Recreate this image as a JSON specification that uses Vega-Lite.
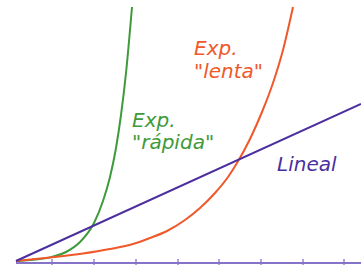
{
  "$schema": "https://vega.github.io/schema/vega-lite/v6.json",
  "width": 361,
  "height": 268,
  "padding": 0,
  "autosize": "none",
  "background": "white",
  "config": {"view": {"stroke": null}},
  "datasets": {
    "curves": [
      {"s": "rapida", "x": 16, "y": 2}, {"s": "rapida", "x": 30, "y": 2.9}, {"s": "rapida", "x": 50, "y": 5.6}, {"s": "rapida", "x": 66, "y": 11}, {"s": "rapida", "x": 80, "y": 21}, {"s": "rapida", "x": 94, "y": 40}, {"s": "rapida", "x": 103, "y": 62}, {"s": "rapida", "x": 110, "y": 86}, {"s": "rapida", "x": 116, "y": 115}, {"s": "rapida", "x": 121, "y": 148}, {"s": "rapida", "x": 126, "y": 190}, {"s": "rapida", "x": 132, "y": 256},
      {"s": "lenta", "x": 16, "y": 2}, {"s": "lenta", "x": 50, "y": 5.5}, {"s": "lenta", "x": 83, "y": 9.5}, {"s": "lenta", "x": 110, "y": 14}, {"s": "lenta", "x": 133, "y": 19}, {"s": "lenta", "x": 150, "y": 25}, {"s": "lenta", "x": 167, "y": 32}, {"s": "lenta", "x": 185, "y": 43}, {"s": "lenta", "x": 200, "y": 55}, {"s": "lenta", "x": 215, "y": 70}, {"s": "lenta", "x": 228, "y": 86}, {"s": "lenta", "x": 237, "y": 100}, {"s": "lenta", "x": 250, "y": 124}, {"s": "lenta", "x": 262, "y": 151}, {"s": "lenta", "x": 273, "y": 180}, {"s": "lenta", "x": 283, "y": 213}, {"s": "lenta", "x": 293, "y": 256},
      {"s": "lineal", "x": 16, "y": 2}, {"s": "lineal", "x": 361, "y": 159}
    ],
    "ticks": [{"x": 52}, {"x": 94}, {"x": 136}, {"x": 178}, {"x": 219}, {"x": 261}, {"x": 303}, {"x": 344}],
    "labels": [
      {"t": "Exp.", "x": 194, "y": 208, "c": "lenta"},
      {"t": "\"lenta\"", "x": 194, "y": 185, "c": "lenta"},
      {"t": "Exp.", "x": 132, "y": 136, "c": "rapida"},
      {"t": "\"rápida\"", "x": 132, "y": 114, "c": "rapida"},
      {"t": "Lineal", "x": 277, "y": 92, "c": "lineal"}
    ]
  },
  "layer": [
    {
      "data": {"values": [{"x1": 16, "x2": 361, "y": 0}]},
      "mark": {"type": "rule", "color": "#8473c9", "strokeWidth": 2},
      "encoding": {
        "x": {"field": "x1", "type": "quantitative", "scale": {"domain": [0, 361], "nice": false, "zero": false}, "axis": null},
        "x2": {"field": "x2"},
        "y": {"field": "y", "type": "quantitative", "scale": {"domain": [-5, 263], "nice": false, "zero": false}, "axis": null}
      }
    },
    {
      "data": {"name": "ticks"},
      "transform": [{"calculate": "-2", "as": "y1"}, {"calculate": "4", "as": "y2"}],
      "mark": {"type": "rule", "color": "#8473c9", "strokeWidth": 1.3},
      "encoding": {
        "x": {"field": "x", "type": "quantitative"},
        "y": {"field": "y1", "type": "quantitative"},
        "y2": {"field": "y2"}
      }
    },
    {
      "data": {"name": "curves"},
      "mark": {"type": "line", "strokeWidth": 2, "interpolate": "monotone"},
      "encoding": {
        "x": {"field": "x", "type": "quantitative"},
        "y": {"field": "y", "type": "quantitative"},
        "detail": {"field": "s"},
        "color": {"field": "s", "type": "nominal", "scale": {"domain": ["rapida", "lenta", "lineal"], "range": ["#3f9a3c", "#f0582a", "#4b2f9e"]}, "legend": null}
      }
    },
    {
      "data": {"name": "labels"},
      "mark": {"type": "text", "align": "left", "baseline": "alphabetic", "font": "DejaVu Sans", "fontSize": 20, "fontStyle": "italic"},
      "encoding": {
        "x": {"field": "x", "type": "quantitative"},
        "y": {"field": "y", "type": "quantitative"},
        "text": {"field": "t"},
        "color": {"field": "c", "type": "nominal", "scale": {"domain": ["rapida", "lenta", "lineal"], "range": ["#4a9a40", "#e8552a", "#52389e"]}, "legend": null}
      }
    }
  ]
}
